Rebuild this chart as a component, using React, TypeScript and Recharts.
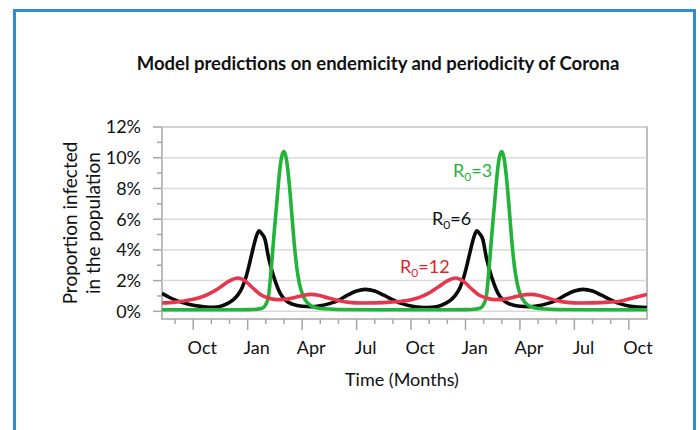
import React from 'react';
import { LineChart, Line, XAxis, YAxis, ReferenceLine, ReferenceArea } from 'recharts';

// Time axis: months counted from 1 September of the first year (0 = Sep, 1 = Oct, 4 = Jan ...)
const r3Months = [-0.72, 1, 3, 4, 4.5, 4.8, 5.0, 5.15, 5.3, 5.45, 5.6, 5.75, 5.88, 6.0, 6.12, 6.25, 6.4, 6.55, 6.7, 6.85, 7.05, 7.3, 7.6, 8.0, 9.0, 11, 13, 15, 16, 16.5, 16.8, 17.0, 17.15, 17.3, 17.45, 17.6, 17.75, 17.88, 18.0, 18.12, 18.25, 18.4, 18.55, 18.7, 18.85, 19.05, 19.3, 19.6, 20.0, 21.0, 23, 26];
const r3Values = [0.1, 0.1, 0.1, 0.11, 0.14, 0.2, 0.45, 1.0, 2.8, 5.0, 7.0, 9.0, 10.1, 10.4, 10.0, 8.8, 6.8, 4.6, 2.9, 1.8, 1.0, 0.55, 0.3, 0.18, 0.12, 0.1, 0.1, 0.1, 0.11, 0.14, 0.2, 0.45, 1.0, 2.8, 5.0, 7.0, 9.0, 10.1, 10.4, 10.0, 8.8, 6.8, 4.6, 2.9, 1.8, 1.0, 0.55, 0.3, 0.18, 0.12, 0.1, 0.1];

const r6Months = [-0.72, -0.3, 0.2, 0.8, 1.4, 1.9, 2.4, 2.9, 3.2, 3.45, 3.7, 3.9, 4.1, 4.3, 4.48, 4.63, 4.78, 4.95, 5.15, 5.35, 5.55, 5.8, 6.1, 6.5, 7.0, 7.5, 8.0, 8.5, 9.0, 9.5, 10.0, 10.47, 11.0, 11.5, 12.0, 12.5, 13.0, 13.5, 13.9, 14.4, 14.9, 15.2, 15.45, 15.7, 15.9, 16.1, 16.3, 16.48, 16.63, 16.78, 16.95, 17.15, 17.35, 17.55, 17.8, 18.1, 18.5, 19.0, 19.5, 20.0, 20.5, 21.0, 21.5, 22.0, 22.47, 23.0, 23.5, 24.0, 24.5, 25.0, 25.5, 26];
const r6Values = [1.17, 0.9, 0.65, 0.45, 0.32, 0.26, 0.3, 0.52, 0.75, 1.05, 1.55, 2.2, 3.1, 4.1, 4.9, 5.24, 5.05, 4.7, 3.5, 2.6, 1.85, 1.15, 0.7, 0.45, 0.33, 0.3, 0.36, 0.5, 0.72, 1.05, 1.32, 1.43, 1.32, 1.05, 0.75, 0.5, 0.35, 0.27, 0.25, 0.3, 0.52, 0.75, 1.05, 1.55, 2.2, 3.1, 4.1, 4.9, 5.24, 5.05, 4.7, 3.5, 2.6, 1.85, 1.15, 0.7, 0.45, 0.33, 0.3, 0.36, 0.5, 0.72, 1.05, 1.32, 1.43, 1.32, 1.05, 0.75, 0.5, 0.35, 0.28, 0.25];

const r12Months = [-0.72, 0, 0.5, 1.0, 1.5, 2.0, 2.5, 3.0, 3.45, 3.9, 4.3, 4.7, 5.1, 5.6, 6.1, 6.6, 7.1, 7.5, 7.9, 8.4, 9.0, 9.6, 10.3, 11.0, 11.9, 12.5, 13.0, 13.5, 14.0, 14.5, 15.0, 15.45, 15.9, 16.3, 16.7, 17.1, 17.6, 18.1, 18.6, 19.1, 19.6, 20.0, 20.5, 21.0, 21.6, 22.3, 23.0, 23.9, 24.5, 25.0, 25.5, 26];
const r12Values = [0.54, 0.6, 0.67, 0.78, 0.95, 1.22, 1.58, 1.98, 2.17, 1.95, 1.5, 1.1, 0.88, 0.76, 0.78, 0.9, 1.05, 1.1, 1.05, 0.88, 0.7, 0.58, 0.54, 0.55, 0.6, 0.66, 0.75, 0.92, 1.2, 1.58, 1.98, 2.17, 1.95, 1.5, 1.1, 0.88, 0.76, 0.78, 0.9, 1.05, 1.1, 1.05, 0.88, 0.7, 0.58, 0.54, 0.55, 0.6, 0.66, 0.8, 0.95, 1.1];

const xTickMonths = [0, 1, 2, 3, 4, 5, 6, 7, 8, 9, 10, 11, 12, 13, 14, 15, 16, 17, 18, 19, 20, 21, 22, 23, 24, 25];
const xMajorMonths = [1, 4, 7, 10, 13, 16, 19, 22, 25];
const xTickLabels = ['Oct', 'Jan', 'Apr', 'Jul', 'Oct', 'Jan', 'Apr', 'Jul', 'Oct'];
const yTickValues = [0, 1, 2, 3, 4, 5, 6, 7, 8, 9, 10, 11, 12];
const yGridValues = [0, 2, 4, 6, 8, 10, 12];

const X_DOMAIN: [number, number] = [-0.72, 26];
const Y_DOMAIN: [number, number] = [-0.5, 12];

const W = 700;
const H = 430;
const MARGIN = { top: 127, right: 53, bottom: 81, left: 102 };
const Y_AXIS_W = 60;
const X_AXIS_H = 30;
const PLOT_W = W - MARGIN.left - Y_AXIS_W - MARGIN.right;
const MONTH_PX = PLOT_W / (X_DOMAIN[1] - X_DOMAIN[0]);

const FONT = "Lato, 'Open Sans', sans-serif";
const AXIS_GREY = '#a6a6a6';

const toData = (months: number[], values: number[]) => months.map((t, i) => ({ t, v: values[i] }));
const r3Data = toData(r3Months, r3Values);
const r6Data = toData(r6Months, r6Values);
const r12Data = toData(r12Months, r12Values);

const XTick = (props: any) => {
  const { x, y, payload } = props;
  const idx = xMajorMonths.indexOf(payload.value);
  const major = idx >= 0;
  return (
    <g>
      <line x1={x} x2={x} y1={y} y2={y + (major ? 11 : 5)} stroke={AXIS_GREY} strokeWidth={1.5} />
      {major && (
        <text x={x + MONTH_PX / 2} y={y + 35} textAnchor="middle" fontFamily={FONT} fontSize={18} fill="#111">
          {xTickLabels[idx]}
        </text>
      )}
    </g>
  );
};

const YTick = (props: any) => {
  const { x, y, payload } = props;
  const v = payload.value;
  const major = v % 2 === 0;
  return (
    <g>
      <line x1={x - (major ? 9 : 5)} x2={x} y1={y} y2={y} stroke={AXIS_GREY} strokeWidth={1.5} />
      {major && (
        <text x={x - 21} y={y} dy="0.36em" textAnchor="end" fontFamily={FONT} fontSize={18} fill="#111">
          {`${v}%`}
        </text>
      )}
    </g>
  );
};

export default function App() {
  return (
    <div style={{ position: 'absolute', left: 0, top: 0, width: W, height: H, overflow: 'hidden', background: '#fff' }}>
      <div
        style={{
          position: 'absolute',
          left: 13,
          top: 9,
          width: 683,
          height: 520,
          boxSizing: 'border-box',
          border: '3px solid #2b8ed6',
        }}
      />
      <div style={{ position: 'absolute', left: 0, top: 0 }}>
        <LineChart width={W} height={H} margin={MARGIN}>
          <XAxis
            type="number"
            dataKey="t"
            domain={X_DOMAIN}
            ticks={xTickMonths}
            allowDataOverflow
            axisLine={false}
            tickLine={false}
            tickSize={0}
            tickMargin={0}
            height={X_AXIS_H}
            interval={0}
            tick={<XTick />}
          />
          <YAxis
            type="number"
            domain={Y_DOMAIN}
            ticks={yTickValues}
            allowDataOverflow
            axisLine={false}
            tickLine={false}
            tickSize={0}
            tickMargin={0}
            width={Y_AXIS_W}
            interval={0}
            tick={<YTick />}
          />
          {yGridValues.map((g) => (
            <ReferenceLine key={g} y={g} stroke="#d9d9d9" strokeWidth={1.5} />
          ))}
          <ReferenceArea x1={X_DOMAIN[0]} x2={X_DOMAIN[1]} y1={Y_DOMAIN[0]} y2={Y_DOMAIN[1]} fill="none" fillOpacity={0} stroke={AXIS_GREY} strokeWidth={1.5} />
          <Line data={r6Data} dataKey="v" type="monotone" stroke="#0a0a0a" strokeWidth={3.6} dot={false} isAnimationActive={false} />
          <Line data={r3Data} dataKey="v" type="monotone" stroke="#22b33a" strokeWidth={3.6} dot={false} isAnimationActive={false} />
          <Line data={r12Data} dataKey="v" type="monotone" stroke="#e8364f" strokeWidth={3.6} dot={false} isAnimationActive={false} />
        </LineChart>
      </div>
      <svg width={W} height={H} style={{ position: 'absolute', left: 0, top: 0, pointerEvents: 'none' }}>
        <text x={378} y={70} textAnchor="middle" fontFamily={FONT} fontWeight={700} fontSize={18.5} fill="#111">
          Model predictions on endemicity and periodicity of Corona
        </text>
        <text x={402} y={386} textAnchor="middle" fontFamily={FONT} fontSize={18} fill="#111">
          Time (Months)
        </text>
        <text transform="translate(77,223) rotate(-90)" textAnchor="middle" fontFamily={FONT} fontSize={19} fill="#111">
          Proportion infected
        </text>
        <text transform="translate(100,223) rotate(-90)" textAnchor="middle" fontFamily={FONT} fontSize={19} fill="#111">
          in the population
        </text>
        <text x={453} y={177} fontFamily={FONT} fontSize={18} fill="#22b33a">
          R<tspan fontSize={12} dy={4}>0</tspan><tspan dy={-4}>=3</tspan>
        </text>
        <text x={432} y={225} fontFamily={FONT} fontSize={18} fill="#111">
          R<tspan fontSize={12} dy={4}>0</tspan><tspan dy={-4}>=6</tspan>
        </text>
        <text x={400} y={273} fontFamily={FONT} fontSize={18} fill="#e61e2a">
          R<tspan fontSize={12} dy={4}>0</tspan><tspan dy={-4}>=12</tspan>
        </text>
      </svg>
    </div>
  );
}
